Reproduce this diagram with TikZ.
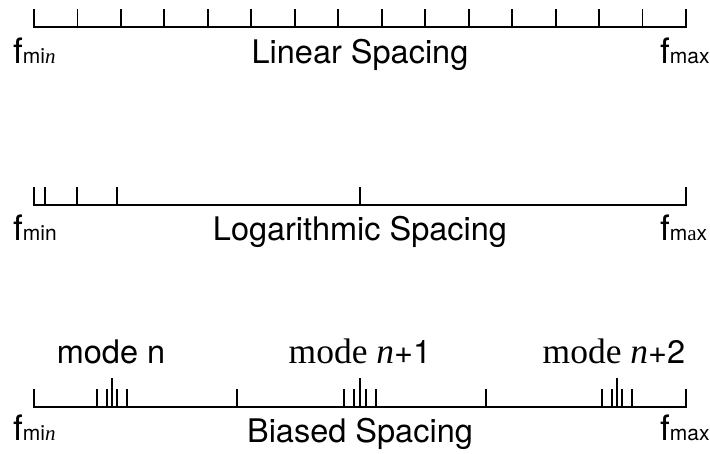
\documentclass[tikz,border=0pt]{standalone}
\usepackage{fontspec}
\setsansfont{TeX Gyre Heros}
\renewcommand{\familydefault}{\sfdefault}
\newfontfamily\serifm{Liberation Serif}
\newcommand{\fbig}{\fontsize{35}{35}\selectfont}
\newcommand{\fsub}{\fontsize{21}{21}\selectfont}
\newcommand{\lblsize}{\fontsize{32.5}{32.5}\selectfont}
\newcommand{\serbig}{\fontsize{35.5}{35.5}\selectfont\serifm}
\begin{document}
\begin{tikzpicture}[x=1pt,y=-1pt,
  axis/.style={line width=1.9pt, line join=miter},
  tk/.style={line width=1.9pt},
  lbl/.style={font=\lblsize, anchor=base, inner sep=0pt},
  flbl/.style={anchor=base west, inner sep=0pt}]
\useasboundingbox (0,0) rectangle (710,453);

% ---------- Linear ----------
\coordinate (L1) at (34,27);
\coordinate (R1) at (686,27);
\draw[axis] (34,9) -- (L1) -- (R1) -- (686,9);
\foreach \i in {1,...,14} \draw[tk] ({34+\i*652/15},27) -- ++(0,-18);
\node[flbl] (fmin1) at (13,63) {\fbig f\fsub mi{\serifm\itshape n}};
\node[lbl] (lin) at (360,63) {Linear Spacing};
\node[flbl] (fmax1) at (660,63) {\fbig f\fsub max};

% ---------- Logarithmic ----------
\coordinate (L2) at (34,205);
\coordinate (R2) at (686,205);
\draw[axis] (34,187) -- (L2) -- (R2) -- (686,187);
\foreach \x in {45,77,117,360} \draw[tk] (\x,205) -- ++(0,-18);
\node[flbl] (fmin2) at (13,240) {\fbig f\fsub min};
\node[lbl] (log) at (360,240) {Logarithmic Spacing};
\node[flbl] (fmax2) at (660,240) {\fbig f\fsub m{\serifm a}x};

% ---------- Biased ----------
\coordinate (L3) at (34,407);
\coordinate (R3) at (686,407);
\draw[axis] (34,389) -- (L3) -- (R3) -- (686,389);
\foreach \x in {237,486} \draw[tk] (\x,407) -- ++(0,-18);
\foreach \x in {97,107,117,127, 344,354,366,376, 602,612,622,632}
  \draw[tk] (\x,407) -- ++(0,-18);
\foreach \x in {112,360,617} \draw[tk] (\x,407) -- ++(0,-29);
\node[lbl] (m1) at (111,363) {mode n};
\node[lbl] (m2) at (360,363) {{\serbig mode \itshape n}+1};
\node[lbl] (m3) at (614,363) {{\serbig mode \itshape n}+2};
\node[flbl] (fmin3) at (13,440) {\fbig f\fsub mi{\serifm\itshape n}};
\node[lbl] (bias) at (360,442) {Biased Spacing};
\node[flbl] (fmax3) at (660,440) {\fbig f\fsub max};
\end{tikzpicture}
\end{document}
